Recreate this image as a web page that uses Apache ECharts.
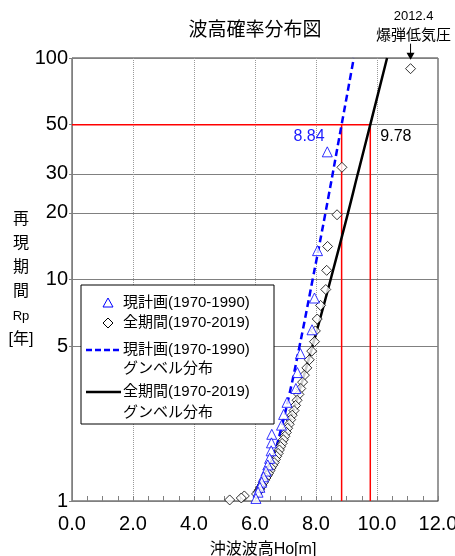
<!DOCTYPE html>
<html><head><meta charset="utf-8">
<script src="https://cdn.jsdelivr.net/npm/echarts@6/dist/echarts.min.js"></script>
<style>html,body{margin:0;padding:0;background:#fff}#c{width:455px;height:556px}</style>
</head><body><div id="c"></div>
<script>
// ---- data ----
const xTicks = [0, 2, 4, 6, 8, 10, 12];
const yTickLabels = [1, 5, 10, 20, 30, 50, 100];

// 現計画(1970-1990) plotted points: wave height Ho [m] and return period Rp [yr]
const triX = [8.37, 8.05, 7.95, 7.87, 7.49, 7.39, 7.34, 7.05, 6.94, 6.87, 6.55, 6.54, 6.53, 6.48, 6.42, 6.36, 6.28, 6.22, 6.16, 6.10, 6.03];
const triT = [37.7, 13.5, 8.25, 5.93, 4.63, 3.80, 3.22, 2.79, 2.46, 2.20, 2.00, 1.83, 1.685, 1.558, 1.455, 1.365, 1.286, 1.216, 1.153, 1.096, 1.027];

// 全期間(1970-2019) plotted points
const diaX = [11.10, 8.85, 8.69, 8.38, 8.35, 8.32, 8.15, 8.04, 7.98, 7.95, 7.86, 7.78, 7.70, 7.62, 7.56, 7.50, 7.44,
              7.38, 7.33, 7.28, 7.22, 7.17, 7.12, 7.07, 7.03, 6.98, 6.93, 6.89, 6.84, 6.80, 6.76, 6.71, 6.67, 6.63,
              6.58, 6.53, 6.49, 6.44, 6.40, 6.36, 6.31, 6.27, 6.23, 6.18, 6.15, 6.10, 6.05, 5.65, 5.55, 5.17];
const diaT = [89.5, 32.1, 19.6, 14.1, 11.0, 9.01, 7.64, 6.63, 5.86, 5.24, 4.75, 4.34, 3.99, 3.70, 3.44, 3.22, 3.03,
              2.85, 2.70, 2.56, 2.44, 2.33, 2.22, 2.13, 2.04, 1.96, 1.89, 1.82, 1.76, 1.70, 1.64, 1.59, 1.54, 1.49,
              1.45, 1.41, 1.37, 1.33, 1.30, 1.27, 1.24, 1.21, 1.18, 1.15, 1.125, 1.10, 1.076, 1.054, 1.032, 1.011];

// Gumbel distribution curves
const gumCurT = [1.05, 1.1, 1.2, 1.5, 2, 3, 5, 10, 20, 50, 100];
const gumCurX = [5.97, 6.10, 6.27, 6.55, 6.81, 7.12, 7.46, 7.89, 8.31, 8.84, 9.24];
const gumAllT = [1.1, 1.2, 1.3, 1.5, 2, 3, 5, 10, 20, 30, 50, 100];
const gumAllX = [6.01, 6.24, 6.40, 6.63, 6.99, 7.41, 7.885, 8.48, 9.05, 9.37, 9.78, 10.33];

// design values at Rp = 50 yr
const designT = 50;
const designCur = 8.84;
const designAll = 9.78;
const noteLines = ['2012.4', '爆弾低気圧'];
const noteIndex = 0; // annotated point = diamond #0

// ---- chart ----
const FONT = "'Liberation Sans','Noto Sans CJK JP',sans-serif";
const pairs = (xs, ts) => xs.map((x, i) => [x, ts[i]]);
const chart = echarts.init(document.getElementById('c'), null, {renderer: 'canvas'});

const option = {
  animation: false,
  grid: {left: 72, right: 17, top: 58, bottom: 55, show: true, borderColor: '#333', borderWidth: 1,
         containLabel: false, outerBoundsMode: 'none'},
  xAxis: {
    type: 'value', min: 0, max: 12, interval: 2,
    axisLine: {lineStyle: {color: '#808080'}},
    axisTick: {inside: true, length: 5, lineStyle: {color: '#808080'}},
    minorTick: {show: true, splitNumber: 4, length: 5, lineStyle: {color: '#808080'}},
    splitLine: {show: true, lineStyle: {color: '#9a9a9a', type: 'dotted'}},
    axisLabel: {fontSize: 20, color: '#000', fontFamily: FONT, margin: 13,
      formatter: v => xTicks.includes(v) ? v.toFixed(1) : ''},
    name: '沖波波高Ho[m]', nameLocation: 'middle', nameGap: 41,
    nameTextStyle: {fontSize: 16, color: '#000', fontFamily: FONT, padding: [0, 0, 0, 16]}
  },
  yAxis: {
    type: 'log', logBase: 10, min: 1, max: 100,
    axisLine: {lineStyle: {color: '#808080'}},
    axisTick: {show: true, length: 3, customValues: yTickLabels, lineStyle: {color: '#808080'}},
    splitLine: {show: true, lineStyle: {color: '#808080'}},
    axisLabel: {customValues: yTickLabels, fontSize: 20, color: '#000', fontFamily: FONT, margin: 4}
  },
  series: [
    {name: 'red50', type: 'line', data: [[0, designT], [designAll, designT], [designAll, 1]],
      symbol: 'none', lineStyle: {color: '#ff0000', width: 1.5}, z: 3},
    {name: 'redCur', type: 'line', data: [[designCur, designT], [designCur, 1]],
      symbol: 'none', lineStyle: {color: '#ff0000', width: 1.5}, z: 3},
    {name: '現計画(1970-1990) グンベル分布', type: 'line', data: pairs(gumCurX, gumCurT), smooth: true,
      symbol: 'none', lineStyle: {color: '#0000ff', width: 2.5, type: [7, 4]}, z: 4},
    {name: '全期間(1970-2019) グンベル分布', type: 'line', data: pairs(gumAllX, gumAllT), smooth: true,
      symbol: 'none', lineStyle: {color: '#000', width: 2.5}, z: 4},
    {name: '全期間(1970-2019)', type: 'scatter', data: pairs(diaX, diaT), symbol: 'diamond', symbolSize: 10,
      itemStyle: {color: '#fff', borderColor: '#000', borderWidth: 1}, z: 5},
    {name: '現計画(1970-1990)', type: 'scatter', data: pairs(triX, triT), symbol: 'triangle', symbolSize: 10,
      itemStyle: {color: '#fff', borderColor: '#0000ff', borderWidth: 1}, z: 6}
  ]
};
chart.setOption(option);

// ---- annotations placed through the chart's own scales ----
const P = v => chart.convertToPixel({gridIndex: 0}, v);
const pCur = P([designCur, designT]);
const pAll = P([designAll, designT]);
const pNote = P([diaX[noteIndex], diaT[noteIndex]]);

const lx = 81, ly = 285; // legend box origin
const legTxt = (x, y, t) => ({type: 'text', x: x, y: y, style: {text: t, fontSize: 15, fill: '#000', fontFamily: FONT, verticalAlign: 'middle'}, z: 20});

chart.setOption({
  graphic: [
    {type: 'text', x: 255, y: 31, style: {text: '波高確率分布図', fontSize: 19, fill: '#000', fontFamily: FONT, align: 'center', verticalAlign: 'middle'}},
    {type: 'text', x: 21, y: 208, style: {text: '再\n現\n期\n間\n{s|Rp}\n[年]', fontSize: 16, lineHeight: 24, fill: '#000', fontFamily: FONT, align: 'center',
      rich: {s: {fontSize: 13, fontFamily: FONT, lineHeight: 24}}}},
    {type: 'text', x: pCur[0] - 17, y: pCur[1] + 12, style: {text: designCur.toFixed(2), fontSize: 16, fill: '#1a1aff', fontFamily: FONT, align: 'right', verticalAlign: 'middle'}, z: 10},
    {type: 'text', x: pAll[0] + 10, y: pAll[1] + 12, style: {text: designAll.toFixed(2), fontSize: 16, fill: '#000', fontFamily: FONT, align: 'left', verticalAlign: 'middle'}, z: 10},
    {type: 'text', x: pNote[0] + 3, y: pNote[1] - 52, style: {text: noteLines[0], fontSize: 13, fill: '#000', fontFamily: FONT, align: 'center', verticalAlign: 'middle'}},
    {type: 'text', x: pNote[0] + 3, y: pNote[1] - 33, style: {text: noteLines[1], fontSize: 15, fill: '#000', fontFamily: FONT, align: 'center', verticalAlign: 'middle'}},
    {type: 'line', shape: {x1: pNote[0], y1: pNote[1] - 25, x2: pNote[0], y2: pNote[1] - 14}, style: {stroke: '#000', lineWidth: 1}, z: 10},
    {type: 'polygon', shape: {points: [[pNote[0] - 4, pNote[1] - 16], [pNote[0] + 4, pNote[1] - 16], [pNote[0], pNote[1] - 9]]}, style: {fill: '#000'}, z: 10},
    // legend
    {type: 'rect', shape: {x: lx, y: ly, width: 193, height: 139}, style: {fill: '#fff', stroke: '#000', lineWidth: 1}, z: 15},
    {type: 'polygon', shape: {points: [[lx + 27, ly + 13], [lx + 22, ly + 22], [lx + 32, ly + 22]]}, style: {fill: '#fff', stroke: '#0000ff', lineWidth: 1}, z: 20},
    legTxt(lx + 42, ly + 18, '現計画(1970-1990)'),
    {type: 'polygon', shape: {points: [[lx + 27, ly + 33], [lx + 32, ly + 38], [lx + 27, ly + 43], [lx + 22, ly + 38]]}, style: {fill: '#fff', stroke: '#000', lineWidth: 1}, z: 20},
    legTxt(lx + 42, ly + 38, '全期間(1970-2019)'),
    {type: 'line', shape: {x1: lx + 5, y1: ly + 65, x2: lx + 40, y2: ly + 65}, style: {stroke: '#0000ff', lineWidth: 2.5, lineDash: [6, 3]}, z: 20},
    legTxt(lx + 42, ly + 65, '現計画(1970-1990)'),
    legTxt(lx + 42, ly + 84, 'グンベル分布'),
    {type: 'line', shape: {x1: lx + 5, y1: ly + 107, x2: lx + 40, y2: ly + 107}, style: {stroke: '#000', lineWidth: 2.5}, z: 20},
    legTxt(lx + 42, ly + 107, '全期間(1970-2019)'),
    legTxt(lx + 42, ly + 128, 'グンベル分布')
  ]
});
</script>
</body></html>
